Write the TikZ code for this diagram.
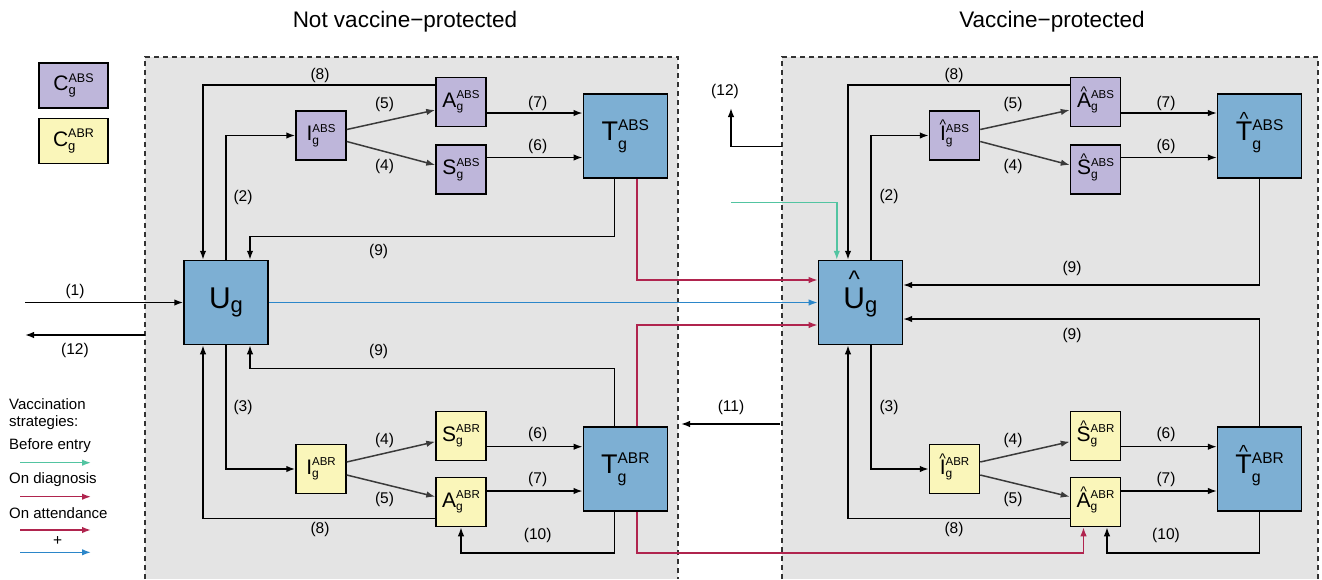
\documentclass[tikz,border=0pt]{standalone}
\usepackage{fontspec}
\setmainfont{Liberation Sans}
\usetikzlibrary{arrows.meta,calc}
\definecolor{bggray}{HTML}{E4E4E4}
\definecolor{purp}{HTML}{BEB6DA}
\definecolor{yell}{HTML}{FAF6BA}
\definecolor{bbox}{HTML}{7DAFD3}
\definecolor{vred}{HTML}{B0244E}
\definecolor{vblue}{HTML}{2B86C9}
\definecolor{vgreen}{HTML}{52C4A1}
\definecolor{dgray}{HTML}{3A3A3A}
\newcommand\hatted[3]{\ooalign{#3\cr\hidewidth\raisebox{#1}{\fontsize{#2}{#2}\selectfont\textasciicircum}\hidewidth\cr}}
\newcommand\scomp[2]{{\fontsize{21}{21}\selectfont #1}\ooalign{\raisebox{8.5pt}{\fontsize{11.5}{11.5}\selectfont #2}\cr\raisebox{-3.5pt}{\fontsize{12}{12}\selectfont g}\cr}}
\newcommand\tcomp[2]{{\fontsize{27}{27}\selectfont #1}\ooalign{\raisebox{10.5pt}{\fontsize{15.5}{15.5}\selectfont #2}\cr\raisebox{-8.5pt}{\fontsize{16}{16}\selectfont g}\cr}}
\newcommand\ccomp[2]{{\fontsize{21}{21}\selectfont #1}\ooalign{\raisebox{8.5pt}{\fontsize{12.5}{12.5}\selectfont #2}\cr\raisebox{-4pt}{\fontsize{13}{13}\selectfont g}\cr}}
\newcommand\ucomp[1]{{\fontsize{30}{30}\selectfont #1\raisebox{-4pt}{\fontsize{22}{22}\selectfont g}}}
\begin{document}
\begin{tikzpicture}[x=1pt,y=-1pt,
  cbox/.style={draw=black,line width=1.5pt,inner sep=0pt,anchor=center},
  smallbox/.style={cbox,minimum width=50pt,minimum height=49pt},
  bigbox/.style={cbox,minimum width=84pt,minimum height=84pt,fill=bbox},
  legbox/.style={cbox,minimum width=69pt,minimum height=45pt},
  arr/.style={line width=1.5pt,draw=black,-{Latex[length=9pt,width=6.5pt]}},
  arrg/.style={line width=1.5pt,draw=dgray,-{Latex[length=9pt,width=6.5pt]}},
  redarr/.style={line width=1.5pt,draw=vred,-{Latex[length=9pt,width=6.5pt]}},
  bluearr/.style={line width=1.5pt,draw=vblue,-{Latex[length=9pt,width=6.5pt]}},
  greenarr/.style={line width=1.5pt,draw=vgreen,-{Latex[length=9pt,width=6.5pt]}},
  bnd/.style={draw=black!80,line width=1.1pt,dash pattern=on 5pt off 4pt},
  lab/.style={font=\fontsize{15.5}{15.5}\selectfont,inner sep=0pt},
  legtext/.style={font=\fontsize{15}{15}\selectfont,inner sep=0pt,anchor=west},
  ttl/.style={font=\fontsize{22.5}{22.5}\selectfont,inner sep=0pt}]
\useasboundingbox (0,0) rectangle (1322,579);
\fill[white] (0,0) rectangle (1322,579);
% regions
\fill[bggray] (145,57) rectangle (678,579);
\draw[bnd] (145,579) -- (145,57) -- (678,57) -- (678,579);
\fill[bggray] (782,57) rectangle (1318,579);
\draw[bnd] (782,579) -- (782,57) -- (1318,57) -- (1318,579);
% titles
\node[ttl] (t1) at (405,22) {Not vaccine−protected};
\node[ttl] (t2) at (1052,22) {Vaccine−protected};
% legend boxes
\node[legbox,fill=purp] (CS) at (73.5,85.5) {\ccomp{C}{ABS}};
\node[legbox,fill=yell] (CR) at (73.5,141) {\ccomp{C}{ABR}};
% left nodes
\node[bigbox] (U) at (226,302.5) {\ucomp{U}};
\node[smallbox,fill=purp] (IS) at (321,135.5) {\scomp{I}{ABS}};
\node[smallbox,fill=purp] (AS) at (461,102) {\scomp{A}{ABS}};
\node[smallbox,fill=purp] (SS) at (461,169.5) {\scomp{S}{ABS}};
\node[bigbox] (TS) at (625.3,136) {\tcomp{T}{ABS}};
\node[smallbox,fill=yell] (IR) at (321,469) {\scomp{I}{ABR}};
\node[smallbox,fill=yell] (SR) at (461,436) {\scomp{S}{ABR}};
\node[smallbox,fill=yell] (AR) at (461,502) {\scomp{A}{ABR}};
\node[bigbox] (TR) at (625.3,469) {\tcomp{T}{ABR}};
% right nodes
\node[bigbox] (Uh) at (860.4,302.5) {\ucomp{\hatted{21.5pt}{24}{U}}};
\node[smallbox,fill=purp] (IhS) at (954.5,135.5) {\scomp{\hatted{11pt}{14}{I}}{ABS}};
\node[smallbox,fill=purp] (AhS) at (1095.5,102) {\scomp{\hatted{11pt}{14}{A}}{ABS}};
\node[smallbox,fill=purp] (ShS) at (1095.5,169.5) {\scomp{\hatted{11pt}{14}{S}}{ABS}};
\node[bigbox] (ThS) at (1259.6,136) {\tcomp{\hatted{15pt}{19}{T}}{ABS}};
\node[smallbox,fill=yell] (IhR) at (954.5,469) {\scomp{\hatted{11pt}{14}{I}}{ABR}};
\node[smallbox,fill=yell] (ShR) at (1095.5,436) {\scomp{\hatted{11pt}{14}{S}}{ABR}};
\node[smallbox,fill=yell] (AhR) at (1095.5,502) {\scomp{\hatted{11pt}{14}{A}}{ABR}};
\node[bigbox] (ThR) at (1259.6,469) {\tcomp{\hatted{15pt}{19}{T}}{ABR}};
% free ends
\coordinate (in1) at (25,302.5);
\coordinate (o12s) at (145,335);
\coordinate (o12e) at (25,335);
\coordinate (r12s) at (781.5,146.7);
\coordinate (r12e) at (731,108);
\coordinate (gs) at (731,202.3);
\coordinate (r11s) at (779.5,424);
\coordinate (r11e) at (681,424);
% ---- left connectors
\draw[arr] (in1) -- (U.west);
\draw[arr] (o12s) -- (o12e);
\draw[arr] ([yshift=17pt]AS.west) -| ([xshift=-23pt]U.north);
\draw[arr] (U.north) |- (IS.west);
\draw[arrg] ([yshift=6pt]IS.east) -- ([yshift=-8pt]AS.west);
\draw[arrg] ([yshift=-6pt]IS.east) -- ([yshift=4.5pt]SS.west);
\draw[arr] ([yshift=-11pt]AS.east) -- ([yshift=-11pt]AS.east -| TS.west);
\draw[arr] ([yshift=12pt]SS.east) -- ([yshift=12pt]SS.east -| TS.west);
\draw[arr] ([xshift=-11pt]TS.south) -- ++(0,57.7) -| ([xshift=24pt]U.north);
\draw[arr] ([xshift=-11pt]TR.north) -- ++(0,-57.7) -| ([xshift=24pt]U.south);
\draw[arr] (U.south) |- (IR.west);
\draw[arrg] ([yshift=7pt]IR.east) -- ([yshift=-5.7pt]SR.west);
\draw[arrg] ([yshift=-6pt]IR.east) -- ([yshift=5.3pt]AR.west);
\draw[arr] ([yshift=-10.7pt]SR.east) -- ([yshift=-10.7pt]SR.east -| TR.west);
\draw[arr] ([yshift=11pt]AR.east) -- ([yshift=11pt]AR.east -| TR.west);
\draw[arr] ([yshift=-16.3pt]AR.west) -| ([xshift=-23pt]U.south);
\draw[arr] ([xshift=-11pt]TR.south) -- ++(0,41.3) -| (AR.south);
% ---- vaccination connectors
\draw[redarr] ([xshift=11.7pt]TS.south) |- ([yshift=22.5pt]Uh.west);
\draw[bluearr] (U.east) -- (Uh.west);
\draw[redarr] ([xshift=11.7pt]TR.north) |- ([yshift=-22.5pt]Uh.west);
\draw[redarr] ([xshift=11.7pt]TR.south) -- ++(0,41.3) -| ([xshift=-12pt]AhR.south);
\draw[greenarr] (gs) -| ([xshift=-23.6pt]Uh.north);
% ---- right connectors
\draw[arr] (r12s) -| (r12e);
\draw[arr] (r11s) -- (r11e);
\draw[arr] ([yshift=17pt]AhS.west) -| ([xshift=-12.4pt]Uh.north);
\draw[arr] ([xshift=10.6pt]Uh.north) |- (IhS.west);
\draw[arrg] ([yshift=6pt]IhS.east) -- ([yshift=-8pt]AhS.west);
\draw[arrg] ([yshift=-6pt]IhS.east) -- ([yshift=4.5pt]ShS.west);
\draw[arr] ([yshift=-11pt]AhS.east) -- ([yshift=-11pt]AhS.east -| ThS.west);
\draw[arr] ([yshift=12pt]ShS.east) -- ([yshift=12pt]ShS.east -| ThS.west);
\draw[arr] (ThS.south) |- ([yshift=17.5pt]Uh.east);
\draw[arr] (ThR.north) |- ([yshift=-16.5pt]Uh.east);
\draw[arr] ([xshift=10.6pt]Uh.south) |- (IhR.west);
\draw[arrg] ([yshift=7pt]IhR.east) -- ([yshift=-5.7pt]ShR.west);
\draw[arrg] ([yshift=-6pt]IhR.east) -- ([yshift=5.3pt]AhR.west);
\draw[arr] ([yshift=-10.7pt]ShR.east) -- ([yshift=-10.7pt]ShR.east -| ThR.west);
\draw[arr] ([yshift=11pt]AhR.east) -- ([yshift=11pt]AhR.east -| ThR.west);
\draw[arr] ([yshift=-16.3pt]AhR.west) -| ([xshift=-12.4pt]Uh.south);
\draw[arr] (ThR.south) -- ++(0,41.3) -| ([xshift=11.5pt]AhR.south);
% ---- labels left
\node[lab] (la8) at (320,75) {(8)};
\node[lab] (la5) at (384.5,104) {(5)};
\node[lab] (la4) at (384.5,166) {(4)};
\node[lab] (la7) at (537.7,103.3) {(7)};
\node[lab] (la6) at (537.7,146.7) {(6)};
\node[lab] (la2) at (243,197) {(2)};
\node[lab] (la9) at (378.6,251.7) {(9)};
\node[lab] (la1) at (75,291) {(1)};
\node[lab] (la12) at (75,350) {(12)};
\node[lab] (lb9) at (378.6,351.7) {(9)};
\node[lab] (lb3) at (243,407) {(3)};
\node[lab] (lb4) at (384.5,440.7) {(4)};
\node[lab] (lb5) at (384.5,499.3) {(5)};
\node[lab] (lb6) at (537.7,434.3) {(6)};
\node[lab] (lb7) at (537.7,479.3) {(7)};
\node[lab] (lb8) at (320,529.3) {(8)};
\node[lab] (lb10) at (537.7,535) {(10)};
% ---- labels right
\node[lab] (ra12) at (725,91.7) {(12)};
\node[lab] (ra8) at (954,75) {(8)};
\node[lab] (ra5) at (1013,104) {(5)};
\node[lab] (ra4) at (1013,166) {(4)};
\node[lab] (ra7) at (1166,103.3) {(7)};
\node[lab] (ra6) at (1166,146.7) {(6)};
\node[lab] (ra2) at (889,196.7) {(2)};
\node[lab] (ra9) at (1072,268.3) {(9)};
\node[lab] (rb9) at (1072,335.7) {(9)};
\node[lab] (rb11) at (731,407.3) {(11)};
\node[lab] (rb3) at (889,407.3) {(3)};
\node[lab] (rb4) at (1013,440.7) {(4)};
\node[lab] (rb5) at (1013,499.3) {(5)};
\node[lab] (rb6) at (1166,434.3) {(6)};
\node[lab] (rb7) at (1166,479.3) {(7)};
\node[lab] (rb8) at (954,529.3) {(8)};
\node[lab] (rb10) at (1166,535) {(10)};
% ---- legend of strategies
\node[legtext] (lv1) at (9,404) {Vaccination};
\node[legtext] (lv2) at (9,423) {strategies:};
\node[legtext] (lv3) at (9,446) {Before entry};
\node[legtext] (lv4) at (9,479.3) {On diagnosis};
\node[legtext] (lv5) at (9,513.3) {On attendance};
\node[lab] (lvp) at (57.7,541) {+};
\coordinate (lg1s) at (20,462.7); \coordinate (lg1e) at (91,462.7);
\coordinate (lg2s) at (20,496.7); \coordinate (lg2e) at (91,496.7);
\coordinate (lg3s) at (20,530); \coordinate (lg3e) at (91,530);
\coordinate (lg4s) at (20,552.3); \coordinate (lg4e) at (91,552.3);
\draw[greenarr] (lg1s) -- (lg1e);
\draw[redarr] (lg2s) -- (lg2e);
\draw[redarr] (lg3s) -- (lg3e);
\draw[bluearr] (lg4s) -- (lg4e);
\end{tikzpicture}
\end{document}
